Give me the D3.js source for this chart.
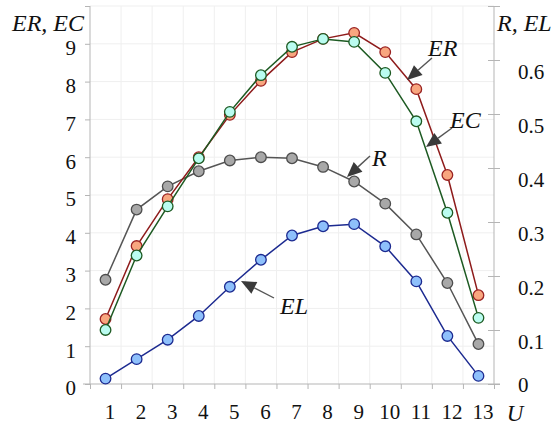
<!DOCTYPE html>
<html>
<head>
<meta charset="utf-8">
<script src="https://cdn.jsdelivr.net/npm/d3@7"></script>
<style>
  body { margin: 0; background: #fff; }
  svg text { font-family: "Liberation Serif", "DejaVu Serif", serif; fill: #111; }
  .ttl { font-style: italic; }
</style>
</head>
<body>
<div id="chart"></div>
<script>
'use strict';

// data
var uValues = [1, 2, 3, 4, 5, 6, 7, 8, 9, 10, 11, 12, 13];
var erValues = [1.72, 3.65, 4.89, 6.0, 7.12, 8.02, 8.78, 9.13, 9.29, 8.78, 7.8, 5.53, 2.35];
var ecValues = [1.43, 3.4, 4.7, 5.97, 7.2, 8.17, 8.92, 9.13, 9.05, 8.23, 6.95, 4.53, 1.75];
var rValues = [0.193, 0.323, 0.366, 0.394, 0.414, 0.42, 0.418, 0.402, 0.375, 0.334, 0.277, 0.187, 0.074];
var elValues = [0.01, 0.046, 0.082, 0.126, 0.18, 0.23, 0.275, 0.292, 0.296, 0.255, 0.19, 0.089, 0.015];
var leftTicks = [0, 1, 2, 3, 4, 5, 6, 7, 8, 9, 10];
var rightTicks = [0, 0.1, 0.2, 0.3, 0.4, 0.5, 0.6, 0.7];

var W = 558, H = 426;
var pLeft = 90, pRight = 494, pTop = 6, pBottom = 384;
var serif = '"Liberation Serif", "DejaVu Serif", serif';

var svg = d3.select('#chart').append('svg')
  .attr('width', W).attr('height', H)
  .attr('font-family', serif);

var x = d3.scaleLinear().domain([0.5, 13.5]).range([pLeft, pRight]);
var yL = d3.scaleLinear().domain([0, 10]).range([pBottom, pTop]);
var yR = d3.scaleLinear().domain([0, 0.7]).range([pBottom, pTop]);

var bounds = d3.range(0.5, 14, 1);

//grid
svg.append('g').selectAll('line.v')
  .data(bounds.slice(1, -1))
  .enter().append('line')
  .attr('x1', function(d){ return x(d); }).attr('x2', function(d){ return x(d); })
  .attr('y1', pTop).attr('y2', pBottom)
  .attr('stroke', '#efefef').attr('stroke-width', 1);
svg.append('g').selectAll('line.h')
  .data(leftTicks.slice(1))
  .enter().append('line')
  .attr('x1', pLeft).attr('x2', pRight)
  .attr('y1', function(d){ return yL(d); }).attr('y2', function(d){ return yL(d); })
  .attr('stroke', '#efefef').attr('stroke-width', 1);

var axisColor = '#b5b5b5';

//bottom axis
svg.append('line')
  .attr('x1', pLeft - 7).attr('x2', pRight + 6)
  .attr('y1', pBottom).attr('y2', pBottom)
  .attr('stroke', axisColor);
var gx = svg.append('g').attr('transform', 'translate(0,' + pBottom + ')')
  .call(d3.axisBottom(x).tickValues(bounds).tickSize(5).tickFormat(''));
gx.select('.domain').remove();
gx.selectAll('line').attr('stroke', axisColor);

var gxl = svg.append('g').attr('transform', 'translate(4,' + pBottom + ')')
  .call(d3.axisBottom(x).tickValues(uValues).tickSize(0).tickPadding(20).tickFormat(d3.format('d')));
gxl.select('.domain').remove();
gxl.attr('font-family', serif).attr('font-size', 21);
gxl.selectAll('text').attr('fill', '#111');

svg.append('text').attr('class', 'ttl')
  .attr('x', 515).attr('y', 421).attr('text-anchor', 'middle')
  .attr('font-size', 23).text('U');

//left axis
var gl = svg.append('g').attr('transform', 'translate(' + pLeft + ',0)')
  .call(d3.axisLeft(yL).tickValues(leftTicks).tickSize(5).tickPadding(9)
    .tickFormat(function(d){ return d < 10 ? d : ''; }));
gl.select('.domain').attr('stroke', axisColor).attr('d', 'M0,' + pTop + 'V' + (pBottom + 1));
gl.selectAll('line').attr('stroke', axisColor);
gl.attr('font-family', serif).attr('font-size', 21);
gl.selectAll('text').attr('fill', '#111').attr('dy', '0.52em');

svg.append('text').attr('class', 'ttl')
  .attr('x', 12).attr('y', 31).attr('font-size', 24).text('ER, EC');

//right axis
var gr = svg.append('g').attr('transform', 'translate(' + pRight + ',0)')
  .call(d3.axisRight(yR).tickValues(rightTicks).tickSize(6).tickPadding(18)
    .tickFormat(function(d){ return d < 0.65 ? (d === 0 ? '0' : d3.format('.1f')(d)) : ''; }));
gr.select('.domain').attr('stroke', axisColor).attr('d', 'M0,' + pTop + 'V' + pBottom);
gr.selectAll('line').attr('stroke', axisColor).attr('x1', -6);
gr.attr('font-family', serif).attr('font-size', 21);
gr.selectAll('text').attr('fill', '#111')
  .attr('dy', function(d){ return d === 0 ? '0.38em' : '0.88em'; });

svg.append('text').attr('class', 'ttl')
  .attr('x', 497).attr('y', 31).attr('font-size', 24).text('R, EL');

//series
var series = [
  { vals: elValues, y: yR, line: '#1c2a90', stroke: '#1c2a90', fill: '#8ec0fb' },
  { vals: rValues, y: yR, line: '#555555', stroke: '#4d4d4d', fill: '#a8a8a8' },
  { vals: erValues, y: yL, line: '#8e1b1b', stroke: '#9a2222', fill: '#f8a67f' },
  { vals: ecValues, y: yL, line: '#1d5a22', stroke: '#1d5a22', fill: '#bafcf0' }
];

series.forEach(function(s){
  var pts = s.vals.map(function(v, i){ return [uValues[i], v]; });
  var line = d3.line()
    .x(function(d){ return x(d[0]); })
    .y(function(d){ return s.y(d[1]); });
  svg.append('path').datum(pts)
    .attr('d', line).attr('fill', 'none')
    .attr('stroke', s.line).attr('stroke-width', 1.5);
  svg.append('g').selectAll('circle')
    .data(pts).enter().append('circle')
    .attr('cx', function(d){ return x(d[0]); })
    .attr('cy', function(d){ return s.y(d[1]); })
    .attr('r', 5.3)
    .attr('fill', s.fill).attr('stroke', s.stroke).attr('stroke-width', 1.3);
});

//annotations
var notes = [
  { label: 'ER', tx: 428, ty: 56, from: [432, 58], to: [407, 80] },
  { label: 'EC', tx: 450, ty: 128, from: [452, 128], to: [426, 147] },
  { label: 'R', tx: 372, ty: 166, from: [370, 156], to: [347, 177] },
  { label: 'EL', tx: 280, ty: 314, from: [274, 298], to: [241, 281] }
];

notes.forEach(function(n){
  var dx = n.to[0] - n.from[0], dy = n.to[1] - n.from[1];
  var len = Math.sqrt(dx * dx + dy * dy);
  var ux = dx / len, uy = dy / len;
  var hl = 15, hw = 6.5;
  var bx = n.to[0] - ux * hl, by = n.to[1] - uy * hl;
  svg.append('line')
    .attr('x1', n.from[0]).attr('y1', n.from[1])
    .attr('x2', bx).attr('y2', by)
    .attr('stroke', '#555').attr('stroke-width', 1.4);
  svg.append('path')
    .attr('d', 'M' + n.to[0] + ',' + n.to[1] +
      'L' + (bx - uy * hw) + ',' + (by + ux * hw) +
      'L' + (bx + uy * hw) + ',' + (by - ux * hw) + 'Z')
    .attr('fill', '#3a3a3a');
  svg.append('text').attr('class', 'ttl')
    .attr('x', n.tx).attr('y', n.ty).attr('font-size', 24).text(n.label);
});
</script>
</body>
</html>
